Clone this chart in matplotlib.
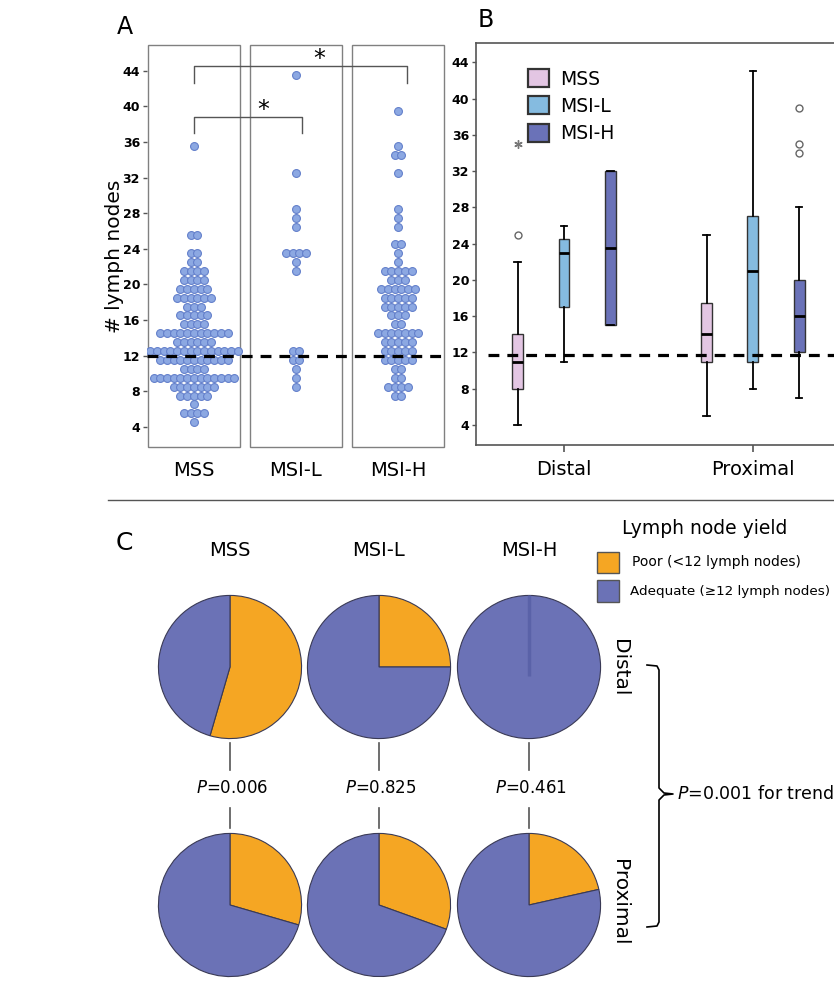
import numpy as np
import matplotlib
matplotlib.use("Agg")
import matplotlib.pyplot as plt
from matplotlib.patches import Patch, Rectangle
from matplotlib.lines import Line2D

plt.rcParams['font.family'] = ['DejaVu Sans']

W, H = 834, 992

groups = ["MSS", "MSI-L", "MSI-H"]

# A: dot plot rows (value, number of patients)
mss_vals = [4.5, 5.5, 6.5, 7.5, 8.5, 9.5, 10.5, 11.5, 12.5, 13.5, 14.5, 15.5,
            16.5, 17.5, 18.5, 19.5, 20.5, 21.5, 22.5, 23.5, 25.5, 35.5]
mss_counts = [1, 4, 1, 5, 7, 13, 4, 11, 14, 6, 11, 4, 5, 3, 6, 5, 4, 4, 2, 2, 2, 1]
msil_vals = [8.5, 9.5, 10.5, 11.5, 12.5, 21.5, 22.5, 23.5, 26.5, 27.5, 28.5, 32.5, 43.5]
msil_counts = [1, 1, 1, 2, 2, 1, 1, 4, 1, 1, 1, 1, 1]
msih_vals = [7.5, 8.5, 9.5, 10.5, 11.5, 12.5, 13.5, 14.5, 15.5, 16.5, 17.5, 18.5,
             19.5, 20.5, 21.5, 22.5, 23.5, 24.5, 26.5, 27.5, 28.5, 32.5, 34.5, 35.5, 39.5]
msih_counts = [2, 4, 2, 2, 5, 5, 5, 7, 2, 3, 5, 5, 6, 3, 5, 1, 1, 2, 1, 1, 1, 1, 2, 1, 1]
cutoff = 12

# B: box plot summaries, [Distal, Proximal] x [MSS, MSI-L, MSI-H]
sites = ["Distal", "Proximal"]
box_q1 = [[8, 17, 15], [11, 11, 12]]
box_med = [[11, 23, 23.5], [14, 21, 16]]
box_q3 = [[14, 24.5, 32], [17.5, 27, 20]]
box_lo = [[4, 11, 15], [5, 8, 7]]
box_hi = [[22, 26, 32], [25, 43, 28]]
box_out = [[[25], [], []], [[], [], [34, 35, 39]]]
box_extreme = [[[35], [], []], [[], [], []]]
box_colors = ['#E3C6E3', '#85BBE0', '#6A72B8']

# C: share of poor yield (<12 nodes)
poor_distal = [0.545, 0.25, 0.0]
poor_proximal = [0.295, 0.305, 0.215]
p_site = ["0.006", "0.825", "0.461"]
p_trend = "0.001"
orange, blue = '#F5A623', '#6B72B6'

fig = plt.figure(figsize=(W / 100, H / 100), dpi=100)


def rect(x0, y0, x1, y1):
    return [x0 / W, 1 - y1 / H, (x1 - x0) / W, (y1 - y0) / H]


def ftext(x, y, s, **kw):
    fig.text(x / W, 1 - y / H, s, **kw)


def fline(xs, ys, **kw):
    fig.add_artist(Line2D([x / W for x in xs], [1 - y / H for y in ys], **kw))


# ---- panel A
axA = fig.add_axes(rect(147, 45, 446, 447))
axA.set_xlim(-0.46, 2.47)
axA.set_ylim(1.72, 46.9)
for s in axA.spines.values():
    s.set_visible(False)
for g in range(3):
    axA.axvspan(g - 0.45, g + 0.45, facecolor='none', edgecolor='#808080', lw=1.0, clip_on=False)
dx = 0.066
for g, (vals, cnts) in enumerate([(mss_vals, mss_counts), (msil_vals, msil_counts),
                                  (msih_vals, msih_counts)]):
    xs, ys = [], []
    for v, n in zip(vals, cnts):
        xs.extend(g + (np.arange(n) - (n - 1) / 2) * dx)
        ys.extend([v] * n)
    axA.scatter(xs, ys, s=32, facecolor='#8CA8E2', edgecolor='#6480CB', linewidth=0.8, zorder=3)
axA.axhline(cutoff, color='black', lw=2.3, dashes=(3.4, 2.5), zorder=4)
axA.set_yticks(range(4, 45, 4))
axA.set_yticklabels([str(t) for t in range(4, 45, 4)], fontweight='bold')
axA.tick_params(axis='y', length=3, width=1, color='#555', pad=2, labelsize=9)
axA.set_xticks([0, 1, 2])
axA.set_xticklabels(groups, fontsize=14)
axA.tick_params(axis='x', length=0, pad=10)
axA.plot([0, 0, 1.06, 1.06], [37.0, 38.8, 38.8, 37.0], color='#555', lw=1, clip_on=False)
axA.plot([0, 0, 2.09, 2.09], [42.6, 44.55, 44.55, 42.6], color='#555', lw=1, clip_on=False)
axA.text(0.68, 39.6, '*', fontsize=17, ha='center', va='center')
axA.text(1.23, 45.3, '*', fontsize=17, ha='center', va='center', clip_on=False)
ftext(115, 256, '# lymph nodes', rotation=90, ha='center', va='center', fontsize=14.5)
ftext(125, 27, 'A', ha='center', va='center', fontsize=17)

# ---- panel B
axB = fig.add_axes(rect(476, 43, 834, 445))
axB.set_xlim(-0.466, 1.43)
axB.set_ylim(1.79, 46.14)
axB.spines['right'].set_visible(False)
for s in ['left', 'bottom', 'top']:
    axB.spines[s].set_color('#555')
    axB.spines[s].set_linewidth(1.2)
stats, pos, cols = [], [], []
for i in range(2):
    for j in range(3):
        stats.append(dict(med=box_med[i][j], q1=box_q1[i][j], q3=box_q3[i][j],
                          whislo=box_lo[i][j], whishi=box_hi[i][j], fliers=box_out[i][j]))
        pos.append(i + (j - 1) * 0.245)
        cols.append(box_colors[j])
bp = axB.bxp(stats, positions=pos, widths=0.058, patch_artist=True, capwidths=0.035,
             boxprops=dict(edgecolor='#333', lw=1.0),
             medianprops=dict(color='black', lw=2),
             whiskerprops=dict(color='black', lw=1.3),
             capprops=dict(color='black', lw=1.3),
             flierprops=dict(marker='o', mfc='none', mec='#666', ms=5, mew=1),
             manage_ticks=False)
for patch, c in zip(bp['boxes'], cols):
    patch.set_facecolor(c)
for i in range(2):
    for j in range(3):
        for v in box_extreme[i][j]:
            axB.plot(i + (j - 1) * 0.245, v, marker=(6, 2, 0), ms=6, mew=1, color='#777')
axB.axhline(11.75, xmin=0.034, xmax=1, color='black', lw=2.3, dashes=(3.4, 2.5), zorder=4)
axB.set_yticks(range(4, 45, 4))
axB.set_yticklabels([str(t) for t in range(4, 45, 4)], fontweight='bold')
axB.tick_params(axis='y', length=3, width=1, color='#555', pad=2, labelsize=9)
axB.set_xticks([0, 1])
axB.set_xticklabels(sites, fontsize=14)
axB.tick_params(axis='x', length=5, width=1.2, color='#555', pad=6)
handles = [Patch(facecolor=c, edgecolor='#333', lw=1.6, label=g) for g, c in zip(groups, box_colors)]
axB.legend(handles=handles, loc='upper left', bbox_to_anchor=(0.145, 0.935), frameon=False,
           fontsize=13.5, handlelength=1.1, handleheight=1.1, handletextpad=0.6,
           labelspacing=0.42, borderaxespad=0, borderpad=0)
ftext(486, 20, 'B', ha='center', va='center', fontsize=17)

# separator
fline([108, 834], [500, 500], color='#555', lw=1)

# ---- panel C
ftext(124, 543, 'C', ha='center', va='center', fontsize=18)
col_x = [230, 379, 529]
for cx, g in zip(col_x, groups):
    ftext(cx, 550, g, ha='center', va='center', fontsize=14)
for row_y, fracs in [(667, poor_distal), (905, poor_proximal)]:
    for cx, f in zip(col_x, fracs):
        ax = fig.add_axes(rect(cx - 73, row_y - 73, cx + 73, row_y + 73))
        wedges, _ = ax.pie([f, 1 - f], colors=[orange, blue], startangle=90, counterclock=False,
                           wedgeprops=dict(edgecolor='#3a3a55', linewidth=0.8))
        if f == 0:
            # empty slice leaves a faint seam from the rim
            a = np.deg2rad(90 - 360 * f)
            ax.plot([np.cos(a), -0.12 * np.cos(a)], [np.sin(a), -0.12 * np.sin(a)],
                    color='#5A62A8', lw=2.5, solid_capstyle='butt')
        ax.set_xlim(-1.02, 1.02)
        ax.set_ylim(-1.02, 1.02)
for cx, p in zip(col_x, p_site):
    fline([cx, cx], [743, 770], color='#555', lw=1.2)
    fline([cx, cx], [808, 828], color='#555', lw=1.2)
    ftext(cx + 2, 788, '$P$=' + p, ha='center', va='center', fontsize=12)
ftext(620, 668, 'Distal', rotation=270, ha='center', va='center', fontsize=14.5)
ftext(620, 902, 'Proximal', rotation=270, ha='center', va='center', fontsize=14.5)
fline([647, 657, 659, 659, 664, 673, 664, 659, 659, 657, 647],
      [665, 666, 670, 788, 793, 794, 795, 800, 922, 926, 927], color='black', lw=1.2)
ftext(677, 794, '$P$=' + p_trend + ' for trend', ha='left', va='center', fontsize=12.5)

ftext(622, 528, 'Lymph node yield', ha='left', va='center', fontsize=13.5)
fig.add_artist(Rectangle((597 / W, 1 - 573 / H), 22 / W, 21 / H, transform=fig.transFigure,
                         facecolor=orange, edgecolor='#555', lw=1))
fig.add_artist(Rectangle((597 / W, 1 - 602 / H), 22 / W, 22 / H, transform=fig.transFigure,
                         facecolor=blue, edgecolor='#555', lw=1))
ftext(632, 562, 'Poor (<12 lymph nodes)', ha='left', va='center', fontsize=10)
ftext(630, 591, 'Adequate (\u226512 lymph nodes)', ha='left', va='center', fontsize=9.7)

fig.savefig('out.png', dpi=100)
